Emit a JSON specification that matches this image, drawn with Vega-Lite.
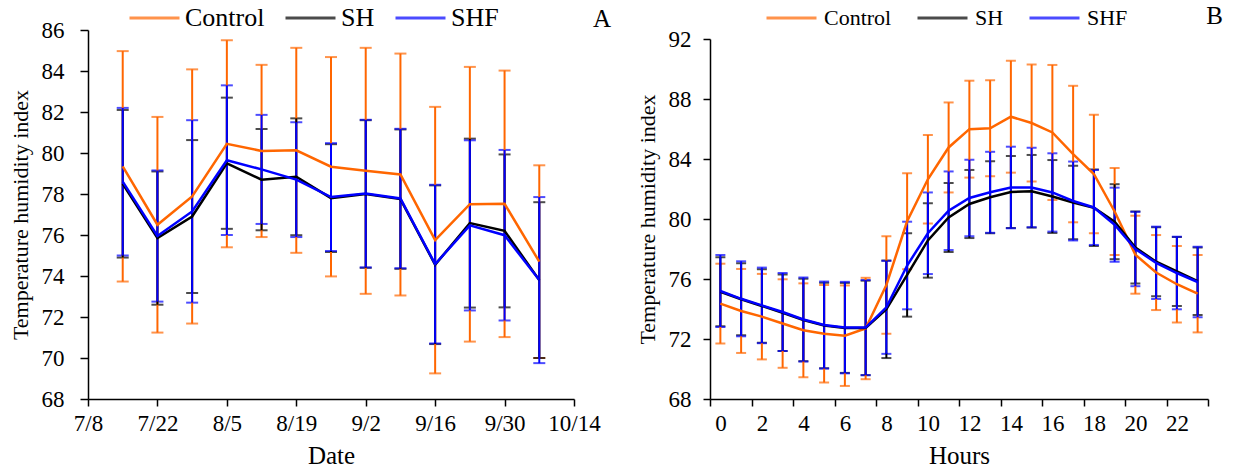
{
  "$schema": "https://vega.github.io/schema/vega-lite/v6.json",
  "background": "white",
  "padding": {"left": 9, "top": 4, "right": 0, "bottom": 0},
  "spacing": 25,
  "config": {
    "font": "Liberation Serif",
    "view": {"stroke": null},
    "title": {"font": "Liberation Serif", "fontSize": 25, "fontWeight": "normal", "color": "black", "anchor": "end", "frame": "group"},
    "legend": {"labelFont": "Liberation Serif", "labelColor": "black", "padding": 0}
  },
  "hconcat": [
    {
      "width": 486,
      "height": 369,
      "title": {"text": "A", "dx": 37, "offset": -26},
      "data": {"values": [
        {"date": "2021-07-15", "series": "Control", "mean": 79.35, "sd": 5.62},
        {"date": "2021-07-22", "series": "Control", "mean": 76.5, "sd": 5.26},
        {"date": "2021-07-29", "series": "Control", "mean": 77.88, "sd": 6.2},
        {"date": "2021-08-05", "series": "Control", "mean": 80.45, "sd": 5.05},
        {"date": "2021-08-12", "series": "Control", "mean": 80.1, "sd": 4.2},
        {"date": "2021-08-19", "series": "Control", "mean": 80.13, "sd": 5.0},
        {"date": "2021-08-26", "series": "Control", "mean": 79.33, "sd": 5.35},
        {"date": "2021-09-02", "series": "Control", "mean": 79.13, "sd": 6.0},
        {"date": "2021-09-09", "series": "Control", "mean": 78.95, "sd": 5.9},
        {"date": "2021-09-16", "series": "Control", "mean": 75.75, "sd": 6.5},
        {"date": "2021-09-23", "series": "Control", "mean": 77.5, "sd": 6.7},
        {"date": "2021-09-30", "series": "Control", "mean": 77.52, "sd": 6.5},
        {"date": "2021-10-07", "series": "Control", "mean": 74.7, "sd": 4.7},
        {"date": "2021-07-15", "series": "SH", "mean": 78.5, "sd": 3.6},
        {"date": "2021-07-22", "series": "SH", "mean": 75.85, "sd": 3.25},
        {"date": "2021-07-29", "series": "SH", "mean": 76.9, "sd": 3.73},
        {"date": "2021-08-05", "series": "SH", "mean": 79.5, "sd": 3.2},
        {"date": "2021-08-12", "series": "SH", "mean": 78.7, "sd": 2.47},
        {"date": "2021-08-19", "series": "SH", "mean": 78.84, "sd": 2.85},
        {"date": "2021-08-26", "series": "SH", "mean": 77.8, "sd": 2.63},
        {"date": "2021-09-02", "series": "SH", "mean": 78.0, "sd": 3.6},
        {"date": "2021-09-09", "series": "SH", "mean": 77.75, "sd": 3.4},
        {"date": "2021-09-16", "series": "SH", "mean": 74.55, "sd": 3.87},
        {"date": "2021-09-23", "series": "SH", "mean": 76.58, "sd": 4.12},
        {"date": "2021-09-30", "series": "SH", "mean": 76.2, "sd": 3.73},
        {"date": "2021-10-07", "series": "SH", "mean": 73.8, "sd": 3.8},
        {"date": "2021-07-15", "series": "SHF", "mean": 78.6, "sd": 3.6},
        {"date": "2021-07-22", "series": "SHF", "mean": 75.95, "sd": 3.2},
        {"date": "2021-07-29", "series": "SHF", "mean": 77.15, "sd": 4.45},
        {"date": "2021-08-05", "series": "SHF", "mean": 79.65, "sd": 3.65},
        {"date": "2021-08-12", "series": "SHF", "mean": 79.2, "sd": 2.66},
        {"date": "2021-08-19", "series": "SHF", "mean": 78.7, "sd": 2.8},
        {"date": "2021-08-26", "series": "SHF", "mean": 77.85, "sd": 2.63},
        {"date": "2021-09-02", "series": "SHF", "mean": 78.02, "sd": 3.6},
        {"date": "2021-09-09", "series": "SHF", "mean": 77.78, "sd": 3.4},
        {"date": "2021-09-16", "series": "SHF", "mean": 74.58, "sd": 3.87},
        {"date": "2021-09-23", "series": "SHF", "mean": 76.47, "sd": 4.15},
        {"date": "2021-09-30", "series": "SHF", "mean": 75.99, "sd": 4.16},
        {"date": "2021-10-07", "series": "SHF", "mean": 73.8, "sd": 4.05}
      ]},
      "encoding": {
        "x": {
          "field": "date", "type": "temporal",
          "scale": {"type": "utc", "domain": [{"year": 2021, "month": 7, "date": 8, "utc": true}, {"year": 2021, "month": 10, "date": 14, "utc": true}]},
          "axis": {
            "title": "Date",
            "values": [
              {"year": 2021, "month": 7, "date": 8, "utc": true},
              {"year": 2021, "month": 7, "date": 22, "utc": true},
              {"year": 2021, "month": 8, "date": 5, "utc": true},
              {"year": 2021, "month": 8, "date": 19, "utc": true},
              {"year": 2021, "month": 9, "date": 2, "utc": true},
              {"year": 2021, "month": 9, "date": 16, "utc": true},
              {"year": 2021, "month": 9, "date": 30, "utc": true},
              {"year": 2021, "month": 10, "date": 14, "utc": true}
            ],
            "labelExpr": "utcFormat(datum.value, '%-m/%-d')",
            "labelFlush": false, "labelOverlap": false,
            "grid": false, "domainColor": "black", "domainWidth": 1.5, "tickColor": "black", "tickWidth": 1.5, "tickSize": 7,
            "labelColor": "black", "labelFont": "Liberation Serif", "labelFontSize": 23, "labelPadding": 6,
            "titleFont": "Liberation Serif", "titleFontSize": 25, "titleFontWeight": "normal", "titleColor": "black", "titlePadding": 8
          }
        },
        "y": {
          "field": "mean", "type": "quantitative",
          "scale": {"domain": [68, 86], "nice": false, "zero": false},
          "axis": {
            "title": "Temperature humidity index", "values": [68, 70, 72, 74, 76, 78, 80, 82, 84, 86],
            "grid": false, "domainColor": "black", "domainWidth": 1.5, "tickColor": "black", "tickWidth": 1.5, "tickSize": 8,
            "labelColor": "black", "labelFont": "Liberation Serif", "labelFontSize": 23, "labelPadding": 16,
            "titleFont": "Liberation Serif", "titleFontSize": 22, "titleFontWeight": "normal", "titleColor": "black", "titlePadding": 9
          }
        },
        "color": {
          "field": "series", "type": "nominal",
          "scale": {"domain": ["Control", "SH", "SHF"], "range": ["#FF6600", "#000000", "#0000FF"]},
          "legend": {"title": null, "orient": "none", "legendX": 40, "legendY": -24, "direction": "horizontal", "columns": 3, "symbolType": "stroke", "symbolSize": 2500, "clipHeight": 24, "symbolStrokeWidth": 3, "labelFontSize": 26, "labelOffset": 4, "columnPadding": 19}
        }
      },
      "layer": [
        {"mark": {"type": "errorbar", "thickness": 2, "ticks": {"size": 12, "thickness": 2}}, "encoding": {"yError": {"field": "sd"}}},
        {"mark": {"type": "line", "strokeWidth": 2.5}}
      ]
    },
    {
      "width": 498,
      "height": 369,
      "title": {"text": "B", "dx": 15, "offset": -23},
      "data": {"values": [
        {"hour": 0, "series": "Control", "mean": 74.36, "sd": 2.66},
        {"hour": 1, "series": "Control", "mean": 73.87, "sd": 2.8},
        {"hour": 2, "series": "Control", "mean": 73.49, "sd": 2.85},
        {"hour": 3, "series": "Control", "mean": 73.03, "sd": 2.95},
        {"hour": 4, "series": "Control", "mean": 72.58, "sd": 3.13},
        {"hour": 5, "series": "Control", "mean": 72.35, "sd": 3.25},
        {"hour": 6, "series": "Control", "mean": 72.22, "sd": 3.35},
        {"hour": 7, "series": "Control", "mean": 72.7, "sd": 3.38},
        {"hour": 8, "series": "Control", "mean": 75.6, "sd": 3.25},
        {"hour": 9, "series": "Control", "mean": 79.85, "sd": 3.2},
        {"hour": 10, "series": "Control", "mean": 82.65, "sd": 2.95},
        {"hour": 11, "series": "Control", "mean": 84.77, "sd": 3.0},
        {"hour": 12, "series": "Control", "mean": 85.99, "sd": 3.23},
        {"hour": 13, "series": "Control", "mean": 86.05, "sd": 3.2},
        {"hour": 14, "series": "Control", "mean": 86.82, "sd": 3.73},
        {"hour": 15, "series": "Control", "mean": 86.4, "sd": 3.9},
        {"hour": 16, "series": "Control", "mean": 85.77, "sd": 4.5},
        {"hour": 17, "series": "Control", "mean": 84.33, "sd": 4.55},
        {"hour": 18, "series": "Control", "mean": 83.0, "sd": 3.95},
        {"hour": 19, "series": "Control", "mean": 80.5, "sd": 2.9},
        {"hour": 20, "series": "Control", "mean": 77.62, "sd": 2.6},
        {"hour": 21, "series": "Control", "mean": 76.43, "sd": 2.5},
        {"hour": 22, "series": "Control", "mean": 75.65, "sd": 2.55},
        {"hour": 23, "series": "Control", "mean": 75.02, "sd": 2.58},
        {"hour": 0, "series": "SH", "mean": 75.15, "sd": 2.3},
        {"hour": 1, "series": "SH", "mean": 74.65, "sd": 2.4},
        {"hour": 2, "series": "SH", "mean": 74.2, "sd": 2.45},
        {"hour": 3, "series": "SH", "mean": 73.75, "sd": 2.55},
        {"hour": 4, "series": "SH", "mean": 73.27, "sd": 2.75},
        {"hour": 5, "series": "SH", "mean": 72.9, "sd": 2.85},
        {"hour": 6, "series": "SH", "mean": 72.74, "sd": 3.0},
        {"hour": 7, "series": "SH", "mean": 72.74, "sd": 3.15},
        {"hour": 8, "series": "SH", "mean": 73.98, "sd": 3.25},
        {"hour": 9, "series": "SH", "mean": 76.27, "sd": 2.78},
        {"hour": 10, "series": "SH", "mean": 78.57, "sd": 2.48},
        {"hour": 11, "series": "SH", "mean": 80.1, "sd": 2.3},
        {"hour": 12, "series": "SH", "mean": 81.0, "sd": 2.27},
        {"hour": 13, "series": "SH", "mean": 81.45, "sd": 2.4},
        {"hour": 14, "series": "SH", "mean": 81.8, "sd": 2.4},
        {"hour": 15, "series": "SH", "mean": 81.85, "sd": 2.42},
        {"hour": 16, "series": "SH", "mean": 81.5, "sd": 2.43},
        {"hour": 17, "series": "SH", "mean": 81.1, "sd": 2.45},
        {"hour": 18, "series": "SH", "mean": 80.75, "sd": 2.55},
        {"hour": 19, "series": "SH", "mean": 79.82, "sd": 2.5},
        {"hour": 20, "series": "SH", "mean": 78.1, "sd": 2.4},
        {"hour": 21, "series": "SH", "mean": 77.15, "sd": 2.3},
        {"hour": 22, "series": "SH", "mean": 76.5, "sd": 2.3},
        {"hour": 23, "series": "SH", "mean": 75.85, "sd": 2.25},
        {"hour": 0, "series": "SHF", "mean": 75.2, "sd": 2.4},
        {"hour": 1, "series": "SHF", "mean": 74.68, "sd": 2.5},
        {"hour": 2, "series": "SHF", "mean": 74.24, "sd": 2.52},
        {"hour": 3, "series": "SHF", "mean": 73.8, "sd": 2.6},
        {"hour": 4, "series": "SHF", "mean": 73.3, "sd": 2.8},
        {"hour": 5, "series": "SHF", "mean": 72.93, "sd": 2.9},
        {"hour": 6, "series": "SHF", "mean": 72.76, "sd": 3.05},
        {"hour": 7, "series": "SHF", "mean": 72.76, "sd": 3.17},
        {"hour": 8, "series": "SHF", "mean": 74.11, "sd": 3.1},
        {"hour": 9, "series": "SHF", "mean": 76.9, "sd": 2.92},
        {"hour": 10, "series": "SHF", "mean": 79.05, "sd": 2.72},
        {"hour": 11, "series": "SHF", "mean": 80.55, "sd": 2.62},
        {"hour": 12, "series": "SHF", "mean": 81.4, "sd": 2.55},
        {"hour": 13, "series": "SHF", "mean": 81.78, "sd": 2.7},
        {"hour": 14, "series": "SHF", "mean": 82.1, "sd": 2.72},
        {"hour": 15, "series": "SHF", "mean": 82.1, "sd": 2.65},
        {"hour": 16, "series": "SHF", "mean": 81.77, "sd": 2.61},
        {"hour": 17, "series": "SHF", "mean": 81.2, "sd": 2.63},
        {"hour": 18, "series": "SHF", "mean": 80.77, "sd": 2.5},
        {"hour": 19, "series": "SHF", "mean": 79.62, "sd": 2.47},
        {"hour": 20, "series": "SHF", "mean": 78.0, "sd": 2.48},
        {"hour": 21, "series": "SHF", "mean": 77.08, "sd": 2.41},
        {"hour": 22, "series": "SHF", "mean": 76.4, "sd": 2.42},
        {"hour": 23, "series": "SHF", "mean": 75.8, "sd": 2.35}
      ]},
      "encoding": {
        "x": {
          "field": "hour", "type": "quantitative",
          "scale": {"domain": [-0.5, 23.5], "nice": false, "zero": false},
          "axis": {
            "title": "Hours",
            "values": [-0.5, 1.5, 3.5, 5.5, 7.5, 9.5, 11.5, 13.5, 15.5, 17.5, 19.5, 21.5, 23.5],
            "labelExpr": "datum.value > 23 ? '' : format(datum.value + 0.5, 'd')",
            "labelOffset": 10.4, "labelFlush": false, "labelOverlap": false,
            "grid": false, "domainColor": "black", "domainWidth": 1.5, "tickColor": "black", "tickWidth": 1.5, "tickSize": 7,
            "labelColor": "black", "labelFont": "Liberation Serif", "labelFontSize": 23, "labelPadding": 6,
            "titleFont": "Liberation Serif", "titleFontSize": 25, "titleFontWeight": "normal", "titleColor": "black", "titlePadding": 8
          }
        },
        "y": {
          "field": "mean", "type": "quantitative",
          "scale": {"domain": [68, 92], "nice": false, "zero": false, "range": [369, 9]},
          "axis": {
            "title": "Temperature humidity index", "values": [68, 72, 76, 80, 84, 88, 92],
            "grid": false, "domainColor": "black", "domainWidth": 1.5, "tickColor": "black", "tickWidth": 1.5, "tickSize": 7,
            "labelColor": "black", "labelFont": "Liberation Serif", "labelFontSize": 23, "labelPadding": 12,
            "titleFont": "Liberation Serif", "titleFontSize": 22, "titleFontWeight": "normal", "titleColor": "black", "titlePadding": 9
          }
        },
        "color": {
          "field": "series", "type": "nominal",
          "scale": {"domain": ["Control", "SH", "SHF"], "range": ["#FF6600", "#000000", "#0000FF"]},
          "legend": {"title": null, "orient": "none", "legendX": 55, "legendY": -24, "direction": "horizontal", "columns": 3, "symbolType": "stroke", "symbolSize": 2500, "clipHeight": 24, "symbolStrokeWidth": 3, "labelFontSize": 22, "labelOffset": 6, "columnPadding": 24}
        }
      },
      "layer": [
        {"mark": {"type": "errorbar", "thickness": 2, "ticks": {"size": 10, "thickness": 2}}, "encoding": {"yError": {"field": "sd"}}},
        {"mark": {"type": "line", "strokeWidth": 2.5}}
      ]
    }
  ],
  "resolve": {"scale": {"color": "independent"}, "legend": {"color": "independent"}}
}
